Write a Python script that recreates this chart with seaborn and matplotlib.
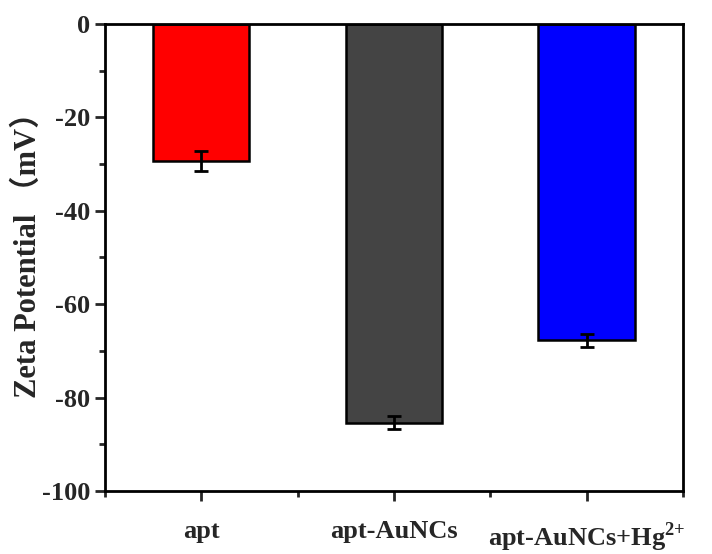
import numpy as np
import pandas as pd
import matplotlib
matplotlib.use("Agg")
import matplotlib.pyplot as plt
import seaborn as sns
from matplotlib.ticker import MultipleLocator

categories = ["apt", "apt-AuNCs", "apt-AuNCs+Hg$^{\\mathbf{2{+}}}$"]
zeta = [-29.3, -85.4, -67.7]
err = [2.1, 1.4, 1.4]
colors = ["#FF0000", "#444444", "#0000FF"]

sns.set_style("ticks")
plt.rcParams["font.family"] = ["Liberation Serif", "Noto Sans CJK SC"]
plt.rcParams["font.weight"] = "bold"
plt.rcParams["axes.unicode_minus"] = False
plt.rcParams["mathtext.fontset"] = "custom"
plt.rcParams["mathtext.bf"] = "Liberation Serif:bold"
plt.rcParams["mathtext.rm"] = "Liberation Serif:bold"

df = pd.DataFrame({"sample": categories, "zeta": zeta})

fig = plt.figure(figsize=(7.12, 5.54), dpi=100)
ax = fig.add_axes([0.1475, 0.1137, 0.8115, 0.843])

sns.barplot(data=df, x="sample", y="zeta", hue="sample", palette=colors,
            width=0.5, edgecolor="black", linewidth=1.8, legend=False,
            saturation=1, ax=ax)
ax.errorbar(np.arange(len(zeta)), zeta, yerr=err, fmt="none", ecolor="black",
            elinewidth=2, capsize=5, capthick=2)

ax.set_xlim(-0.5, 2.5)
ax.set_ylim(-100, 0)
ax.yaxis.set_major_locator(MultipleLocator(20))
ax.yaxis.set_minor_locator(MultipleLocator(10))
ax.xaxis.set_minor_locator(MultipleLocator(1, offset=0.5))

for s in ax.spines.values():
    s.set_visible(True)
    s.set_linewidth(2)
    s.set_color("black")

ax.tick_params(axis="both", which="major", direction="out", length=7, width=2,
               labelsize=19)
ax.tick_params(axis="both", which="minor", direction="out", length=4, width=2)
ax.tick_params(axis="x", which="major", pad=14)
ax.tick_params(top=False, right=False, which="both")
for lbl in ax.get_xticklabels() + ax.get_yticklabels():
    lbl.set_fontweight("bold")

ax.set_xlabel("")
ax.set_ylabel("Zeta Potential （mV）", fontsize=22, fontweight="bold")
ax.yaxis.set_label_coords(-0.108, 0.52)

fig.savefig("out.png", dpi=100)
